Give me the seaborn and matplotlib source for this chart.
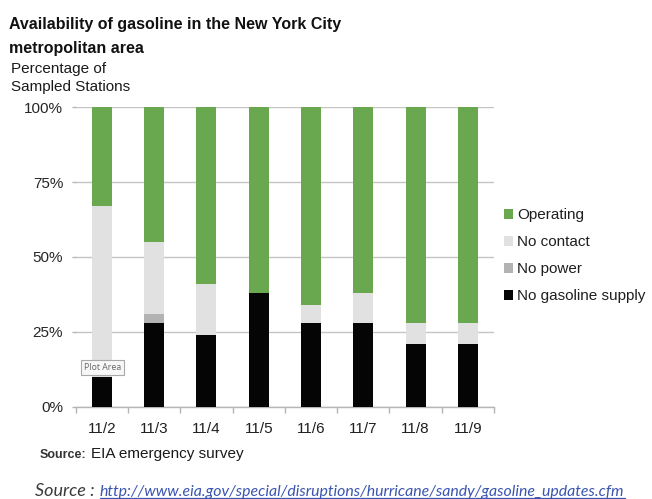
import matplotlib
matplotlib.use("Agg")
import matplotlib.pyplot as plt
from matplotlib.patches import Patch
from matplotlib.lines import Line2D
import seaborn as sns
import pandas as pd

# Share of sampled stations by status, per survey day (percent)
dates = ["11/2", "11/3", "11/4", "11/5", "11/6", "11/7", "11/8", "11/9"]
no_gasoline = [10, 28, 24, 38, 28, 28, 21, 21]
no_power = [0, 3, 0, 0, 0, 0, 0, 0]
no_contact = [57, 24, 17, 0, 6, 10, 7, 7]
operating = [33, 45, 59, 62, 66, 62, 72, 72]

series_names = ["Operating", "No contact", "No power", "No gasoline supply"]
series_colors = ["#6aa84f", "#e1e1e1", "#b3b3b3", "#050505"]

y_ticks = [0, 25, 50, 75, 100]
y_tick_labels = ["0%", "25%", "50%", "75%", "100%"]

df = pd.DataFrame({
    "date": dates,
    "No gasoline supply": no_gasoline,
    "No power": no_power,
    "No contact": no_contact,
    "Operating": operating,
})
# cumulative tops of each stacked segment (bottom-up order)
df["top_gas"] = df["No gasoline supply"]
df["top_power"] = df["top_gas"] + df["No power"]
df["top_contact"] = df["top_power"] + df["No contact"]
df["top_oper"] = df["top_contact"] + df["Operating"]

sns.set_theme(style="white")
plt.rcParams["font.family"] = ["Liberation Sans", "DejaVu Sans"]

W, H = 652, 499
fig = plt.figure(figsize=(W / 100, H / 100), dpi=100)
ax = fig.add_axes([75.7 / W, 1 - 406.7 / H, (494 - 75.7) / W, (406.7 - 107.3) / H])


def fx(px):
    return px / W


def fy(py):
    return 1 - py / H


# tallest segment first, smaller cumulative bars drawn over it
for col, color in zip(["top_oper", "top_contact", "top_power", "top_gas"], series_colors):
    sns.barplot(data=df, x="date", y=col, color=color, saturation=1,
                width=0.385, errorbar=None, ax=ax, linewidth=0, zorder=3)

ax.set_xlim(-0.5, 7.5)
ax.set_ylim(0, 100)
ax.set_xlabel("")
ax.set_ylabel("")

ax.set_yticks(y_ticks)
ax.set_yticklabels(y_tick_labels)
ax.yaxis.grid(True, color="#c4c4c4", linewidth=1.0, zorder=0)
ax.set_axisbelow(True)

for s in ["top", "right", "left"]:
    ax.spines[s].set_visible(False)
ax.spines["bottom"].set_color("#b5b5b5")
ax.spines["bottom"].set_linewidth(1.0)

ax.tick_params(axis="y", which="major", length=3, width=1, color="#b5b5b5",
               labelsize=11, labelcolor="#262626", pad=6, left=True)
ax.set_xticks(range(len(dates)))
ax.set_xticklabels(dates)
ax.set_xticks([i - 0.5 for i in range(len(dates) + 1)], minor=True)
ax.tick_params(axis="x", which="major", length=0, labelsize=11,
               labelcolor="#1f1f1f", pad=11)
ax.tick_params(axis="x", which="minor", length=4, width=1, color="#b5b5b5",
               bottom=True, direction="out")

# legend
handles = [Patch(facecolor=c, edgecolor="none", label=n)
           for n, c in zip(series_names, series_colors)]
ax.legend(handles=handles, loc="upper left", bbox_to_anchor=(fx(504), fy(208)),
          bbox_transform=fig.transFigure, frameon=False, fontsize=11,
          handlelength=0.62, handleheight=0.62, handletextpad=0.25,
          labelspacing=0.86, borderpad=0, borderaxespad=0,
          labelcolor="#1f1f1f")

# titles
fig.text(fx(9), fy(29), "Availability of gasoline in the New York City",
         fontsize=11.5, fontweight="bold", color="#111111", va="baseline")
fig.text(fx(9), fy(53), "metropolitan area",
         fontsize=11.5, fontweight="bold", color="#111111", va="baseline")
fig.text(fx(11), fy(73), "Percentage of", fontsize=11, color="#1a1a1a", va="baseline")
fig.text(fx(11), fy(91), "Sampled Stations", fontsize=11, color="#1a1a1a", va="baseline")

# source notes
fig.text(fx(40), fy(458), "Source:", fontsize=9, fontweight="bold",
         color="#333333", va="baseline")
fig.text(fx(91), fy(458), "EIA emergency survey", fontsize=11,
         color="#1a1a1a", va="baseline")

# hover tag over the first bar
fig.text(fx(102.5), fy(367.5), "Plot Area", fontsize=6.3, color="#666666",
         family=["Open Sans", "DejaVu Sans"], ha="center", va="center", zorder=10,
         bbox=dict(boxstyle="square,pad=0.3", fc="#f7f7f7", ec="#a9a9a9", lw=0.8))

# web source line, fitted to its span
renderer = fig.canvas.get_renderer()
t1 = fig.text(fx(35), fy(496), "Source :", fontsize=14, fontstyle="italic",
              family=["Lato", "DejaVu Sans"], color="#3a3a3a", va="baseline")
url = "http://www.eia.gov/special/disruptions/hurricane/sandy/gasoline_updates.cfm"
t2 = fig.text(fx(100), fy(496), url, fontsize=14, fontstyle="italic",
              family=["Lato", "DejaVu Sans"], color="#3a55b0", va="baseline")
for t, target in [(t1, 60), (t2, 527)]:
    w = t.get_window_extent(renderer).width
    t.set_fontsize(t.get_fontsize() * target / w)
bb = t2.get_window_extent(renderer)
fig.add_artist(Line2D([bb.x0 / W, bb.x1 / W], [fy(497.5), fy(497.5)],
                      transform=fig.transFigure, color="#3a55b0", lw=0.9))

fig.savefig("out.png", dpi=100)
